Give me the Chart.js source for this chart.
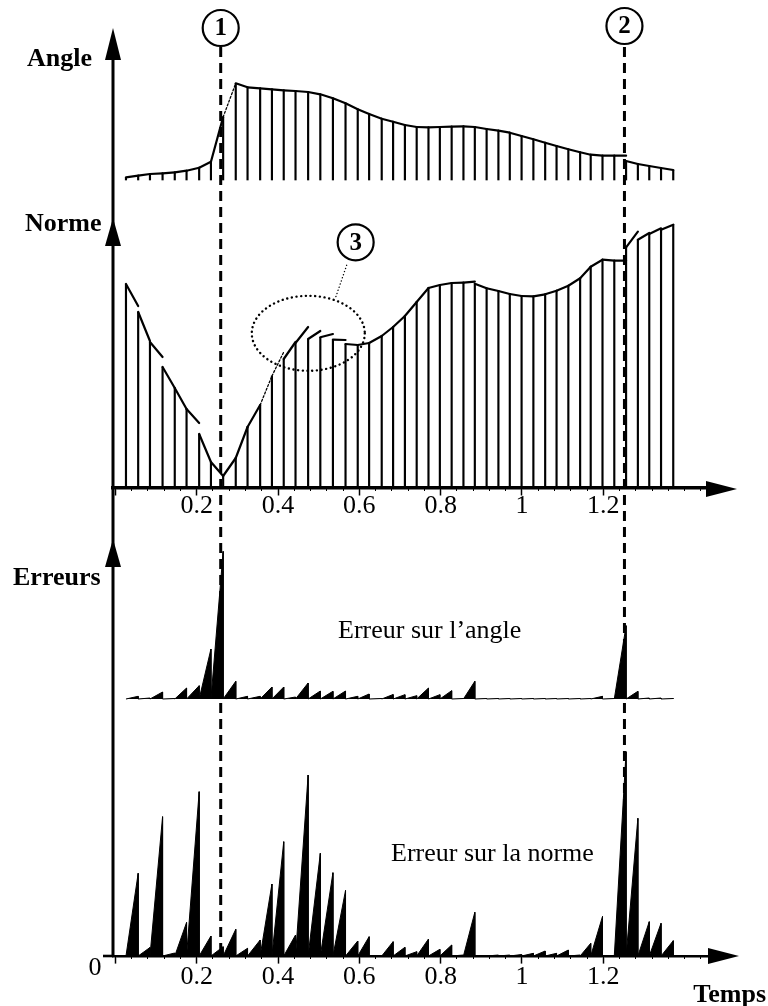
<!DOCTYPE html>
<html>
<head>
<meta charset="utf-8">
<script src="https://cdn.jsdelivr.net/npm/chart.js@4/dist/chart.umd.min.js"></script>
<style>
  html, body { margin: 0; padding: 0; background: #fff; }
  #graphe { display: block; }
</style>
</head>
<body>
<canvas id="graphe" width="768" height="1006"></canvas>
<script>
// instants des echantillons (s)
const temps = [0.026, 0.056, 0.085, 0.116, 0.146, 0.175, 0.206, 0.235, 0.265, 0.296,
  0.325, 0.356, 0.385, 0.414, 0.443, 0.474, 0.504, 0.535, 0.566, 0.596,
  0.624, 0.655, 0.683, 0.712, 0.741, 0.770, 0.798, 0.827, 0.856, 0.884,
  0.913, 0.942, 0.970, 0.999, 1.028, 1.057, 1.085, 1.114, 1.143, 1.169,
  1.198, 1.227, 1.256, 1.285, 1.313, 1.342, 1.372];

// angle echantillonne, et fin du segment predit jusqu'a l'echantillon suivant
const angle = [2.7, 4.3, 6, 6.7, 7.7, 9.3, 12.3, 18.3, 63, 96.7,
  92.7, 91.7, 90.7, 89.7, 89, 88, 85.7, 81.7, 76.7, 70.7,
  66, 61.3, 58.3, 55, 53, 52.7, 53, 53.3, 53.7, 53,
  51, 49.3, 47.3, 44, 40.7, 37.3, 34, 30.7, 27.7, 25.3,
  24.3, 24.3, 19, 16, 14, 12, 10];
const angleFin = [4.3, 6, 6.7, 7.7, 9.3, 12.3, 18.3, 63, 96.7, 92.7,
  91.7, 90.7, 89.7, 89, 88, 85.7, 81.7, 76.7, 70.7, 66,
  61.3, 58.3, 55, 53, 52.7, 53, 53.3, 53.7, 53, 51,
  49.3, 47.3, 44, 40.7, 37.3, 34, 30.7, 27.7, 25.3, 24.3,
  24.3, 24.3, 16, 14, 12, 10];

// norme echantillonnee, et fin du segment predit
const norme = [204, 176, 146, 121, 100, 79, 54, 26, 12, 30,
  61, 83, 112, 129, 145, 149, 150.7, 148.3, 144, 143,
  145, 152, 161, 172, 186, 200, 203, 205, 205.3, 204.3,
  199.7, 197, 194, 192, 191.7, 193.7, 197.3, 202.3, 209.7, 221.3,
  228.3, 227.3, 240.7, 248.3, 254, 258.3, 263.3];
const normeFin = [182, 147, 131, 100, 79, 65, 26, 12, 30, 61,
  83, 112, 136, 146, 161, 157, 154, 148, 143, 145,
  152, 161, 172, 186, 200, 203, 205, 205.3, 206.3, 199.7,
  197, 194, 192, 191.7, 193.7, 197.3, 202.3, 209.7, 221.3, 228.3,
  227.3, 227.3, 256.3, 255, 259.7, 263.3];

// erreur atteinte en fin de chaque intervalle
const erreurAngle = [2.7, 1, 7, 0.5, 11, 13.3, 50, 147.6, 17.7, 2.7,
  2.7, 12, 12, 2, 16, 8, 7.7, 8, 2.7, 5,
  0.5, 4.5, 4.3, 3.3, 11, 4.3, 8.3, 0.5, 17.7, 0.5,
  0.5, 0.5, 0.5, 0.5, 0.5, 0.5, 0.5, 0.5, 0.5, 2.7,
  0.5, 73.3, 7.7, 1, 1, 0.5];
const erreurNorme = [82.7, 8.5, 139.3, 3, 33.5, 164.3, 20, 9.3, 26.7, 7.7,
  16, 72, 114.3, 21, 181, 102.7, 83.3, 65.5, 15, 19.3,
  0.5, 14.3, 8.7, 4.3, 17, 6.7, 11, 1, 43.7, 0.5,
  1, 1, 1.5, 2.7, 5, 2.7, 6, 1, 12.7, 39.5,
  0.5, 204.3, 137.7, 34.3, 32.7, 15.3];

const graduations = [0.2, 0.4, 0.6, 0.8, 1, 1.2];
const etiquettes = ['0.2', '0.4', '0.6', '0.8', '1', '1.2'];

const reperes = [0.259, 1.252];
const reperesNoms = ['1', '2'];

// mise en page (pixels)
const H = 1006;
const T_MIN = -0.0059, T_MAX = 1.4624;
const serif = '"Liberation Serif", "Times New Roman", serif';

function segments(vals, fins) {
  const pts = [];
  for (let i = 0; i < fins.length; i++) {
    pts.push({x: temps[i], y: vals[i]}, {x: temps[i + 1], y: fins[i]}, {x: temps[i + 1], y: null});
  }
  return pts;
}

function dents(errs) {
  const pts = [];
  errs.forEach((e, i) => {
    pts.push({x: temps[i], y: 0}, {x: temps[i + 1], y: e}, {x: temps[i + 1], y: 0});
  });
  return pts;
}

const tiges = (vals, axe) => ({
  type: 'bar', yAxisID: axe, xAxisID: 'x',
  data: temps.map((t, i) => ({x: t, y: vals[i]})),
  backgroundColor: '#000', borderWidth: 0, barThickness: 1.5, grouped: false
});

const courbe = (vals, fins, axe, doux) => ({
  type: 'line', yAxisID: axe, xAxisID: 'x',
  data: segments(vals, fins),
  borderColor: '#000', borderWidth: 2.2, pointRadius: 0, spanGaps: false,
  borderCapStyle: 'round', borderJoinStyle: 'round', tension: 0,
  segment: {
    borderDash: c => doux.includes(Math.floor(c.p0DataIndex / 3)) ? [2, 2] : undefined,
    borderWidth: c => doux.includes(Math.floor(c.p0DataIndex / 3)) ? 1.3 : undefined
  }
});

const erreurs = (errs, axe) => ({
  type: 'line', yAxisID: axe, xAxisID: 'x',
  data: dents(errs),
  borderColor: '#000', backgroundColor: '#000', borderWidth: 1,
  pointRadius: 0, fill: 'origin', tension: 0
});

const axeY = base => ({display: false, min: base - H, max: base});

const axeT = (ref, padding) => ({
  type: 'linear', min: T_MIN, max: T_MAX, position: {[ref]: 0},
  afterBuildTicks: s => { s.ticks = [0].concat(graduations).map(v => ({value: v})); },
  ticks: {
    color: '#000', padding: padding, maxRotation: 0, autoSkip: false,
    font: {family: serif, size: 26, lineHeight: 1},
    callback: v => v === 0 ? '' : etiquettes[graduations.indexOf(v)]
  },
  grid: {drawOnChartArea: false, tickLength: 6, tickWidth: 1.5, tickColor: '#000'},
  border: {display: true, color: '#000', width: ref === 'yN' ? 3.5 : 2.6}
});

const axeFin = ref => ({
  type: 'linear', min: T_MIN, max: T_MAX, position: {[ref]: 0},
  ticks: {display: false, stepSize: 0.04, includeBounds: false},
  grid: {drawOnChartArea: false, tickLength: 3, tickWidth: 1, tickColor: '#000'},
  border: {display: false}
});

function flecheHaut(ctx, x, y, h) {
  ctx.beginPath();
  ctx.moveTo(x, y); ctx.lineTo(x - 8, y + h); ctx.lineTo(x + 8, y + h);
  ctx.closePath(); ctx.fill();
}
function flecheDroite(ctx, x, y) {
  ctx.beginPath();
  ctx.moveTo(x, y); ctx.lineTo(x - 31, y - 8); ctx.lineTo(x - 31, y + 8);
  ctx.closePath(); ctx.fill();
}
function pastille(ctx, x, y, txt) {
  ctx.setLineDash([]);
  ctx.beginPath(); ctx.arc(x, y, 18, 0, 2 * Math.PI);
  ctx.fillStyle = '#fff'; ctx.fill();
  ctx.lineWidth = 2.2; ctx.strokeStyle = '#000'; ctx.stroke();
  ctx.fillStyle = '#000';
  ctx.font = 'bold 25px ' + serif;
  ctx.textAlign = 'center'; ctx.textBaseline = 'middle';
  ctx.fillText(txt, x, y + 1);
}

const habillage = {
  id: 'habillage',
  afterDraw(chart) {
    const {ctx, chartArea, scales} = chart;
    const gx = chartArea.left;
    const yN0 = scales.yN.getPixelForValue(0);
    const yE0 = scales.yEN.getPixelForValue(0);
    ctx.save();
    ctx.strokeStyle = '#000'; ctx.fillStyle = '#000';

    // reperes 1 et 2
    ctx.lineWidth = 3; ctx.setLineDash([10, 6]);
    reperes.forEach(t => {
      const px = scales.x.getPixelForValue(t);
      ctx.beginPath(); ctx.moveTo(px, 47); ctx.lineTo(px, yE0 - 2); ctx.stroke();
    });
    ctx.setLineDash([]);

    // axe vertical commun et fleches
    ctx.lineWidth = 3;
    ctx.beginPath(); ctx.moveTo(gx, 40); ctx.lineTo(gx, yE0); ctx.stroke();
    ctx.lineWidth = 2.6;
    ctx.beginPath(); ctx.moveTo(gx - 10, yE0); ctx.lineTo(gx, yE0); ctx.stroke();
    flecheHaut(ctx, gx, 28, 32);
    flecheHaut(ctx, gx, 218, 28);
    flecheHaut(ctx, gx, 539, 28);
    flecheDroite(ctx, 737, yN0 + 1);
    flecheDroite(ctx, 739, yE0);

    // zone 3 : ellipse pointillee
    const ex = scales.x.getPixelForValue(0.4744);
    const ey = scales.yN.getPixelForValue(154.7);
    ctx.lineWidth = 2.4; ctx.lineCap = 'round'; ctx.setLineDash([0.1, 4.6]);
    ctx.beginPath(); ctx.ellipse(ex, ey, 56.5, 37.5, 0, 0, 2 * Math.PI); ctx.stroke();
    const cx = scales.x.getPixelForValue(0.5909);
    const cy = scales.yN.getPixelForValue(245.7);
    ctx.lineWidth = 1.4; ctx.setLineDash([0.1, 3.2]);
    ctx.beginPath(); ctx.moveTo(cx - 9, cy + 23); ctx.lineTo(cx - 20, cy + 55); ctx.stroke();
    ctx.lineCap = 'butt';

    pastille(ctx, scales.x.getPixelForValue(reperes[0]), 28, reperesNoms[0]);
    pastille(ctx, scales.x.getPixelForValue(reperes[1]), 26, reperesNoms[1]);
    pastille(ctx, cx, cy, '3');

    // titres
    ctx.fillStyle = '#000';
    ctx.textAlign = 'left'; ctx.textBaseline = 'alphabetic';
    ctx.font = 'bold 26px ' + serif;
    ctx.fillText('Angle', 27, 66);
    ctx.fillText('Norme', 25, 231);
    ctx.fillText('Erreurs', 13, 585);
    ctx.textAlign = 'right';
    ctx.fillText('Temps', 766, 1002);
    ctx.textAlign = 'left';
    ctx.font = '26px ' + serif;
    ctx.fillText('Erreur sur l\u2019angle', 338, 638);
    ctx.fillText('Erreur sur la norme', 391, 861);
    ctx.textAlign = 'center';
    ctx.fillText('0', 95, 975);
    ctx.restore();
  }
};

new Chart(document.getElementById('graphe'), {
  type: 'line',
  data: {
    datasets: [
      courbe(angle, angleFin, 'yA', [8]),
      tiges(angle, 'yA'),
      courbe(norme, normeFin, 'yN', [11, 12]),
      tiges(norme, 'yN'),
      erreurs(erreurAngle, 'yEA'),
      erreurs(erreurNorme, 'yEN')
    ]
  },
  options: {
    responsive: false,
    animation: false,
    events: [],
    layout: {padding: {left: 113, right: 58, top: 0, bottom: 0}},
    plugins: {legend: {display: false}, tooltip: {enabled: false}},
    scales: {
      x: {type: 'linear', min: T_MIN, max: T_MAX, display: false, offset: false},
      yA: axeY(180),
      yN: axeY(488),
      yEA: axeY(699),
      yEN: axeY(956),
      xMilieu: axeT('yN', -1),
      xMilieuFin: axeFin('yN'),
      xBas: axeT('yEN', 2),
      xBasFin: axeFin('yEN')
    }
  },
  plugins: [habillage]
});
</script>
</body>
</html>
